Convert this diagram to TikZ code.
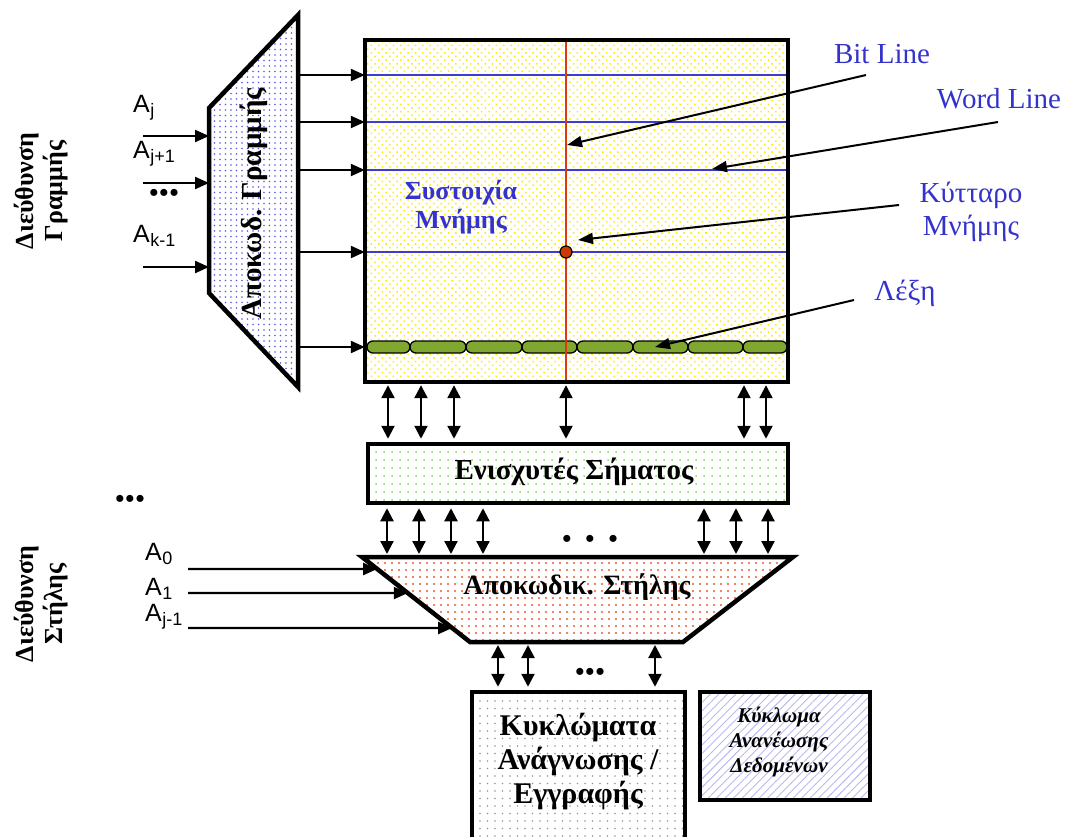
\documentclass[tikz,border=0pt]{standalone}
\usepackage{fontspec}
\setmainfont{Liberation Serif}
\newfontfamily\arialfont{Liberation Sans}
\usetikzlibrary{arrows.meta,patterns.meta,calc}

\definecolor{wordblue}{RGB}{60,60,210}
\definecolor{bitred}{RGB}{220,60,10}
\definecolor{labelblue}{RGB}{51,51,204}
\definecolor{cellred}{RGB}{205,55,0}
\definecolor{wordgreen}{RGB}{128,168,48}
\definecolor{dotyellow}{RGB}{255,236,0}
\definecolor{dotblue}{RGB}{90,90,230}
\definecolor{dotgreen}{RGB}{120,225,80}
\definecolor{dotred}{RGB}{235,90,50}
\definecolor{dotgray}{RGB}{150,150,150}
\definecolor{hatchblue}{RGB}{185,185,240}

\newcommand\subA[2]{A\kern0.5pt\raisebox{-0.32ex}{\fontsize{#1}{#1}\selectfont #2}}

\tikzset{
  blk/.style={line width=4.5pt},
  arr/.style={line width=2.2pt,-{Triangle[length=14pt,width=12pt]}},
  biarr/.style={line width=2.2pt,{Triangle[length=13pt,width=13pt]}-{Triangle[length=13pt,width=13pt]}},
  ptr/.style={line width=2pt,-{Triangle[length=15pt,width=11pt]}},
  wline/.style={line width=2pt,draw=wordblue},
  bline/.style={line width=2pt,draw=bitred},
  seg/.style={line width=1.3pt,draw=black,fill=wordgreen,rounded corners=6pt},
  addr/.style={font=\arialfont\fontsize{25}{28}\selectfont,anchor=base west,inner sep=0pt},
  ttl/.style={font=\fontsize{26}{29}\selectfont\bfseries,align=center,rotate=90},
  lbl/.style={font=\fontsize{29}{33}\selectfont,text=labelblue,align=center},
  bullets/.style={font=\fontsize{26}{26}\selectfont\bfseries,inner sep=0pt}
}

\begin{document}
\begin{tikzpicture}[x=1pt,y=-1pt]
\useasboundingbox (0,0) rectangle (1066,836);
\clip (0,0) rectangle (1066,836);

% ---------- row address title ----------
\node[ttl] (rowtitle) at (41,191) {Διεύθυνση\\Γραμμής};

% ---------- row decoder (trapezoid) ----------
\coordinate (rdTL) at (209,108);
\coordinate (rdTR) at (298,15);
\coordinate (rdBR) at (298,387);
\coordinate (rdBL) at (209,293);
\path[pattern={Dots[distance=5.5pt,radius=0.9pt]},pattern color=dotblue]
  (rdTL) -- (rdTR) -- (rdBR) -- (rdBL) -- cycle;
\draw[blk] (rdTL) -- (rdTR) -- (rdBR) -- (rdBL) -- cycle;
\node[ttl,font=\fontsize{29}{30}\selectfont\bfseries] (rdtext) at (254,204) {Αποκωδ. Γραμμής};

% row address inputs
\node[addr] (aj) at (133,112) {\subA{18}{j}};
\node[addr] (aj1) at (133,158) {\subA{18}{j+1}};
\node[bullets] (rdots) at (164,195) {•\kern1pt•\kern1pt•};
\node[addr] (ak1) at (133,242) {\subA{18}{k-1}};
\coordinate (in1) at (143,136);
\coordinate (in2) at (143,183);
\coordinate (in3) at (143,267);
\foreach \c in {in1,in2,in3} \draw[arr] (\c) -- (rdTL |- \c);

% ---------- memory array ----------
\node[minimum width=423pt,minimum height=342pt,inner sep=0pt,
      pattern={Dots[distance=5.2pt,angle=45,radius=1.1pt]},pattern color=dotyellow]
  (mem) at (576.5,211) {};
\coordinate (wl1) at (0,75);
\coordinate (wl2) at (0,122);
\coordinate (wl3) at (0,170);
\coordinate (wl4) at (0,252);
\coordinate (wl5) at (0,347);
\foreach \c in {wl1,wl2,wl3,wl4} \draw[wline] (mem.west |- \c) -- (mem.east |- \c);

% word: chain of cells
\foreach \a/\b in {367/410,410/466,466/522,522/577,577/633,633/688,688/743,743/787}
  \draw[seg] (\a,341) rectangle (\b,353);

% bit line and the selected cell
\coordinate (blx) at (566,0);
\draw[bline] (mem.north -| blx) -- (mem.south -| blx);
\node[circle,draw=black,line width=1.2pt,fill=cellred,minimum size=12pt,inner sep=0pt]
  (cell) at (blx |- wl4) {};
\draw[blk] (mem.north west) rectangle (mem.south east);
\node[font=\fontsize{26}{29}\selectfont\bfseries,text=labelblue,align=center]
  (memtext) at (461,207) {Συστοιχία\\Μνήμης};

% row decoder outputs
\foreach \c in {wl1,wl2,wl3,wl4,wl5} \draw[arr] (rdTR |- \c) -- (mem.west |- \c);

% ---------- callout labels ----------
\node[lbl,anchor=base] (bitlbl) at (882,63) {Bit Line};
\node[lbl,anchor=base] (wordlbl) at (999,108) {Word Line};
\node[lbl] (celllbl) at (971,212) {Κύτταρο\\Μνήμης};
\node[lbl,anchor=base] (lexlbl) at (905,300) {Λέξη};
\coordinate (bitfrom) at (866,75);   \coordinate (bitto) at (567,145);
\coordinate (wordfrom) at (998,122); \coordinate (wordto) at (712,169);
\coordinate (cellfrom) at (899,205); \coordinate (cellto) at (578,240);
\coordinate (lexfrom) at (854,300);  \coordinate (lexto) at (655,347);
\draw[ptr] (bitfrom) -- (bitto);
\draw[ptr] (wordfrom) -- (wordto);
\draw[ptr] (cellfrom) -- (cellto);
\draw[ptr] (lexfrom) -- (lexto);

% ---------- sense amplifiers ----------
\node[blk,draw,minimum width=420pt,minimum height=59pt,inner sep=0pt,
      pattern={Dots[distance=8pt,radius=1pt]},pattern color=dotgreen]
  (sa) at (578,473.5) {};
\node[font=\fontsize{29}{32}\selectfont\bfseries] (satext) at (574,472) {Ενισχυτές Σήματος};
\foreach \x in {388,421,454,566,744,766}
  \draw[biarr,shorten <=3pt,shorten >=3pt] (mem.south -| \x,0) -- (sa.north -| \x,0);

% ---------- column decoder (inverted trapezoid) ----------
\coordinate (cdTL) at (362,557);
\coordinate (cdTR) at (793,557);
\coordinate (cdBR) at (683,642);
\coordinate (cdBL) at (470,642);
\path[pattern={Dots[distance=7pt,radius=1.1pt]},pattern color=dotred]
  (cdTL) -- (cdTR) -- (cdBR) -- (cdBL) -- cycle;
\draw[blk] (cdTL) -- (cdTR) -- (cdBR) -- (cdBL) -- cycle;
\node[font=\fontsize{28}{30}\selectfont\bfseries,anchor=base] (cdtext) at (577,594) {Αποκωδικ. Στήλης};
\foreach \x in {387,419,451,483,704,736,768}
  \draw[biarr,shorten <=3pt,shorten >=3pt] (sa.south -| \x,0) -- (cdTL -| \x,0);
\node[bullets] (cdots) at (590,541) {•\kern14pt•\kern14pt•};

% ---------- column address ----------
\node[ttl] (coltitle) at (41,604) {Διεύθυνση\\Στήλης};
\node[bullets] (ldots) at (130,501) {•\kern1pt•\kern1pt•};
\node[addr] (a0) at (145,560) {\subA{18}{0}};
\node[addr] (a1) at (145,595) {\subA{18}{1}};
\node[addr] (ajm1) at (145,621) {\subA{18}{j-1}};
\coordinate (cin1) at (188,569);
\coordinate (cin2) at (188,593);
\coordinate (cin3) at (188,628);
\draw[arr] (cin1) -- ($(cdTL)!0.141!(cdBL)$);
\draw[arr] (cin2) -- ($(cdTL)!0.424!(cdBL)$);
\draw[arr] (cin3) -- ($(cdTL)!0.835!(cdBL)$);

% ---------- read / write circuits ----------
\node[blk,draw,minimum width=213pt,minimum height=190pt,inner sep=0pt,
      pattern={Dots[distance=7.5pt,radius=0.9pt]},pattern color=dotgray]
  (rw) at (578.5,787) {};
\node[font=\fontsize{30}{34}\selectfont\bfseries,align=center] (rwtext) at (578,762)
  {Κυκλώματα\\Ανάγνωσης /\\Εγγραφής};
\foreach \x in {498,528,655}
  \draw[biarr,shorten <=3pt,shorten >=3pt] (cdBL -| \x,0) -- (rw.north -| \x,0);
\node[bullets] (bdots) at (590,674) {•\kern1pt•\kern1pt•};

% ---------- refresh circuit ----------
\node[blk,draw,minimum width=170pt,minimum height=108pt,inner sep=0pt,
      pattern={Lines[angle=45,distance=6pt,line width=0.9pt]},pattern color=hatchblue]
  (rf) at (785,746) {};
\node[font=\fontsize{21}{25}\selectfont\bfseries\itshape,align=center] (rftext) at (779,742)
  {Κύκλωμα\\Ανανέωσης\\Δεδομένων};
\end{tikzpicture}
\end{document}
